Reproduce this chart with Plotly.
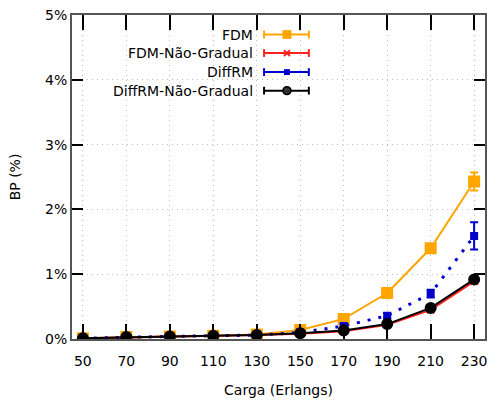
import plotly.graph_objects as go

carga = [50, 70, 90, 110, 130, 150, 170, 190, 210, 230]
fdm = [0.01, 0.03, 0.04, 0.05, 0.07, 0.14, 0.31, 0.71, 1.40, 2.43]
fdm_err = [0.005, 0.005, 0.005, 0.005, 0.008, 0.01, 0.02, 0.03, 0.06, 0.14]
fdm_ng = [0.01, 0.02, 0.03, 0.04, 0.06, 0.08, 0.12, 0.22, 0.45, 0.89]
fdm_ng_err = [0.003, 0.003, 0.003, 0.004, 0.005, 0.006, 0.01, 0.015, 0.03, 0.04]
diffrm = [0.01, 0.03, 0.04, 0.05, 0.06, 0.10, 0.20, 0.36, 0.70, 1.59]
diffrm_err = [0.005, 0.005, 0.005, 0.005, 0.008, 0.01, 0.03, 0.04, 0.06, 0.21]
diffrm_ng = [0.01, 0.03, 0.04, 0.05, 0.06, 0.09, 0.13, 0.23, 0.48, 0.92]
diffrm_ng_err = [0.003, 0.003, 0.003, 0.004, 0.005, 0.006, 0.01, 0.015, 0.03, 0.05]
ytick_vals = [0, 1, 2, 3, 4, 5]
ytick_text = ["0%", "1%", "2%", "3%", "4%", "5%"]

names = ["FDM", "FDM-Não-Gradual", "DiffRM", "DiffRM-Não-Gradual"]
colors = ["#FFA500", "#FF2020", "#0000CC", "#000000"]
yvals = [fdm, fdm_ng, diffrm, diffrm_ng]
yerrs = [fdm_err, fdm_ng_err, diffrm_err, diffrm_ng_err]
symbols = ["square", "x-thin-open", "square", "circle"]
sizes = [10, 7, 6, 10]
dashes = ["solid", "solid", "3px,8px", "solid"]

fig = go.Figure()
for n, c, y, e, s, sz, d in zip(names, colors, yvals, yerrs, symbols, sizes, dashes):
    fig.add_trace(go.Scatter(
        x=carga, y=y, name=n, mode="lines+markers",
        line=dict(color=c, width=3 if d != "solid" else 2, dash=d),
        marker=dict(symbol=s, size=sz, color=c, line=dict(color=c, width=2)),
        error_y=dict(type="data", array=e, color=c, thickness=2, width=4),
        showlegend=False,
    ))

# custom legend (text left of sample, gnuplot style)
L, R, T, B = 72, 487, 11, 343
def px(xp):
    return (xp - L) / (R - L)
def py(yp):
    return 1 - (yp - T) / (B - T)

shapes = []
annotations = []
rows = [31, 50, 69.5, 88.5]
for i, (n, c) in enumerate(zip(names, colors)):
    yy = py(rows[i])
    annotations.append(dict(text=n, x=px(256), y=yy, xref="paper", yref="paper",
                            xanchor="right", yanchor="middle", showarrow=False,
                            font=dict(family="DejaVu Sans", size=14, color="#000")))
    shapes.append(dict(type="line", x0=px(265), x1=px(310), y0=yy, y1=yy,
                       xref="paper", yref="paper", line=dict(color=c, width=2)))
    for xc in (265, 310):
        shapes.append(dict(type="line", x0=px(xc), x1=px(xc), y0=py(rows[i] - 4), y1=py(rows[i] + 4),
                           xref="paper", yref="paper", line=dict(color=c, width=2)))
    mx = 288
    if i == 0:
        shapes.append(dict(type="rect", x0=px(mx - 4.5), x1=px(mx + 4.5), y0=py(rows[i] - 4.5), y1=py(rows[i] + 4.5),
                           xref="paper", yref="paper", fillcolor=c, line=dict(color=c, width=0)))
    elif i == 1:
        for a, b in ((-3, 3), (3, -3)):
            shapes.append(dict(type="line", x0=px(mx - 3), x1=px(mx + 3), y0=py(rows[i] + a), y1=py(rows[i] + b),
                               xref="paper", yref="paper", line=dict(color=c, width=2)))
    elif i == 2:
        shapes.append(dict(type="rect", x0=px(mx - 3), x1=px(mx + 3), y0=py(rows[i] - 3), y1=py(rows[i] + 3),
                           xref="paper", yref="paper", fillcolor=c, line=dict(color=c, width=0)))
    else:
        shapes.append(dict(type="circle", x0=px(mx - 4), x1=px(mx + 4), y0=py(rows[i] - 4), y1=py(rows[i] + 4),
                           xref="paper", yref="paper", fillcolor="#333", line=dict(color=c, width=1.5)))

axis_common = dict(showline=True, linecolor="#555", linewidth=2, mirror="ticks",
                   ticks="inside", tickcolor="#000", tickwidth=1.5,
                   showgrid=True, gridcolor="#bdbdbd", griddash="1px,4px", gridwidth=1,
                   zeroline=False, tickfont=dict(family="DejaVu Sans", size=14, color="#000"))

fig.update_layout(
    width=494, height=403,
    margin=dict(l=L, r=494 - R, t=T, b=403 - B),
    paper_bgcolor="white", plot_bgcolor="white",
    xaxis=dict(range=[45, 235], tickmode="array", tickvals=carga, ticklen=15, ticklabelstandoff=8,
               title=dict(text="Carga (Erlangs)", font=dict(family="DejaVu Sans", size=14, color="#000"), standoff=17),
               **axis_common),
    yaxis=dict(range=[0, 5], tickmode="array", tickvals=ytick_vals, ticktext=ytick_text, ticklen=11,
               title=dict(text="BP (%)", font=dict(family="DejaVu Sans", size=14, color="#000"), standoff=21),
               **axis_common),
    shapes=shapes, annotations=annotations,
)

fig.write_html("out.html", config={"displayModeBar": False},
               post_script="document.body.style.margin='0';document.body.style.padding='0';")
